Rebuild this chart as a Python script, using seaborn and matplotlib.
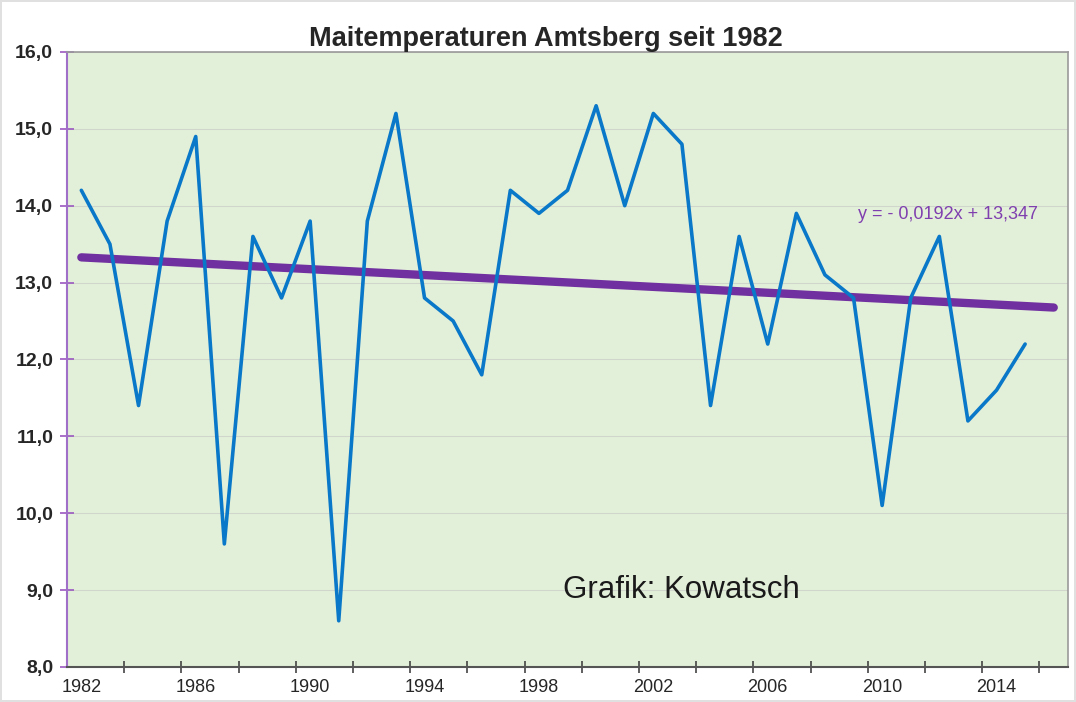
import numpy as np
import pandas as pd
import matplotlib.pyplot as plt
import seaborn as sns

# Mai-Temperaturen Amtsberg
years = list(range(1982, 2016))
temps = [14.2, 13.5, 11.4, 13.8, 14.9, 9.6, 13.6, 12.8, 13.8, 8.6,
         13.8, 15.2, 12.8, 12.5, 11.8, 14.2, 13.9, 14.2, 15.3, 14.0,
         15.2, 14.8, 11.4, 13.6, 12.2, 13.9, 13.1, 12.8, 10.1, 12.8,
         13.6, 11.2, 11.6, 12.2]

# Trendlinie laut Formel im Diagramm
slope = -0.0192
intercept = 13.347
trend_years = list(range(1982, 2017))

label_years = list(range(1982, 2015, 4))
y_ticks = list(range(8, 17))

df = pd.DataFrame({'Jahr': years, 'Temp': temps})
trend = pd.DataFrame({'Jahr': trend_years})
trend['Temp'] = intercept + slope * (trend['Jahr'] - 1981)

sns.set_style("white")
plt.rcParams['font.family'] = ['Liberation Sans', 'DejaVu Sans']

fig = plt.figure(figsize=(10.76, 7.02), dpi=100)
ax = fig.add_axes([0.0623, 0.05, 0.9303, 0.876])
ax.set_facecolor('#E3F0D9')

sns.lineplot(data=trend, x='Jahr', y='Temp', ax=ax, color='#7030A0', linewidth=6, zorder=2)
sns.lineplot(data=df, x='Jahr', y='Temp', ax=ax, color='#0A78C8', linewidth=2.6, zorder=3)

ax.set_xlim(1981.5, 2016.5)
ax.set_ylim(8, 16)
ax.set_xlabel('')
ax.set_ylabel('')

# y-Achse
ax.set_yticks(y_ticks)
ax.set_yticklabels([f'{v},0' for v in y_ticks], fontweight='bold', fontsize=14)
ax.tick_params(axis='y', left=True, direction='inout', length=10, width=1.2,
               color='#9B59C0', pad=5)
ax.yaxis.grid(True, color='#D0D6CC', linewidth=0.8)
ax.set_axisbelow(True)

# x-Achse: Beschriftung je 4 Jahre, Striche je 2 Jahre
ax.set_xticks(label_years)
ax.set_xticklabels([str(y) for y in label_years], fontsize=13)
ax.tick_params(axis='x', bottom=True, length=0, pad=9)
ax.set_xticks(np.arange(1983.5, 2016, 2), minor=True)
ax.tick_params(axis='x', which='minor', bottom=True, direction='inout', length=9,
               width=1.2, color='#444444')

ax.spines['left'].set_color('#A070C8')
ax.spines['left'].set_linewidth(1.5)
ax.spines['bottom'].set_color('#555555')
ax.spines['bottom'].set_linewidth(1.5)
for s in ['top', 'right']:
    ax.spines[s].set_color('#9A9A9A')
    ax.spines[s].set_linewidth(1.2)

ax.text(2012.3, 13.88, 'y = - 0,0192x + 13,347', color='#7F3FAF',
        fontsize=13, ha='center', va='center')
ax.text(1998.85, 9.0, 'Grafik: Kowatsch', color='#1A1A1A',
        fontsize=22.5, ha='left', va='center')

fig.text(0.507, 0.945, 'Maitemperaturen Amtsberg seit 1982', ha='center', va='center',
         fontsize=19.5, fontweight='bold')

fig.patch.set_edgecolor('#E0E0E0')
fig.patch.set_linewidth(1.5)

plt.savefig('out.png', dpi=100, edgecolor=fig.get_edgecolor())
